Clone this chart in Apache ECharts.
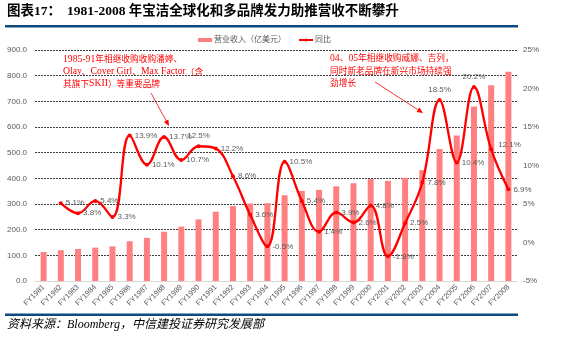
<!DOCTYPE html>
<html>
<head>
<meta charset="utf-8">
<script src="https://cdn.jsdelivr.net/npm/echarts@6/dist/echarts.min.js"></script>
<style>
  html, body { margin: 0; padding: 0; background: #fff; }
  #chart { width: 579px; height: 337px; }
</style>
</head>
<body>
<div id="chart"></div>
<script>
  // 财年
  var years = ['FY1981', 'FY1982', 'FY1983', 'FY1984', 'FY1985', 'FY1986', 'FY1987',
    'FY1988', 'FY1989', 'FY1990', 'FY1991', 'FY1992', 'FY1993', 'FY1994', 'FY1995',
    'FY1996', 'FY1997', 'FY1998', 'FY1999', 'FY2000', 'FY2001', 'FY2002', 'FY2003',
    'FY2004', 'FY2005', 'FY2006', 'FY2007', 'FY2008'];
  // 营业收入（亿美元）
  var revenue = [113, 120, 125, 130, 135, 155, 168, 192, 212, 240, 270, 292, 302, 303,
    334, 351, 355, 369, 381, 397, 390, 402, 432, 514, 567, 680, 763, 815];
  // 同比 (%)
  var yoy = [null, 5.1, 3.8, 5.4, 3.3, 13.9, 10.1, 13.7, 10.7, 12.5, 12.2, 8.6, 3.6, -0.5,
    10.5, 5.4, 1.4, 3.9, 2.6, 4.8, -1.8, 2.5, 7.8, 18.5, 10.4, 20.2, 12.1, 6.9];
  var leftTicks = { min: 0, max: 900, step: 100 };
  var rightTicks = { min: -5, max: 25, step: 5 };

  var note1 = '1985-91年相继收购收购潘婷、\nOlay、Cover Girl、Max Factor（含\n其旗下SKII）等重要品牌';
  var note2 = '04、05年相继收购威娜、吉列，\n同时新老品牌在新兴市场持续强\n劲增长';

  var red = '#FF0000';
  var gray = '#595959';
  var serif = '"Liberation Serif", "Noto Sans CJK SC", serif';

  // labels that sit above the point instead of to the right
  var topLabels = { 'FY1990': 1, 'FY2004': 1, 'FY2006': 1 };

  var yoyData = yoy.map(function (v, i) {
    if (v === null) return null;
    var item = { value: v };
    if (topLabels[years[i]]) item.label = { position: 'top', distance: 4 };
    if (years[i] === 'FY2007') item.label = { position: 'right', offset: [2, -5] };
    return item;
  });

  // CJK runs a bit smaller than the latin text, as in the source document
  function mixed(s) {
    return s.replace(/[\u3000-\u9fff\uff00-\uffef]+/g, function (m) { return '{c|' + m + '}'; });
  }
  var noteRich = { c: { fontSize: 8.7, fontFamily: '"Noto Sans CJK SC"', fill: red, lineHeight: 12.3 } };

  function arrow(x1, y1, x2, y2) {
    var a = Math.atan2(y2 - y1, x2 - x1);
    var len = 6, w = 2.6;
    var bx = x2 - len * Math.cos(a), by = y2 - len * Math.sin(a);
    return [
      { type: 'line', shape: { x1: x1, y1: y1, x2: bx, y2: by }, style: { stroke: red, lineWidth: 0.8 } },
      { type: 'polygon', shape: { points: [[x2, y2],
        [bx + w * Math.sin(a), by - w * Math.cos(a)],
        [bx - w * Math.sin(a), by + w * Math.cos(a)]] }, style: { fill: red } }
    ];
  }

  var chart = echarts.init(document.getElementById('chart'));
  chart.setOption({
    animation: false,
    backgroundColor: '#fff',
    textStyle: { fontFamily: 'Arial, "Liberation Sans", "Noto Sans CJK SC", sans-serif' },
    legend: {
      left: 193,
      top: 31,
      itemGap: 12,
      itemWidth: 14,
      itemHeight: 4,
      textStyle: { fontSize: 8, color: gray, padding: [0, 0, 0, -3] },
      data: [
        { name: '营业收入（亿美元）', icon: 'rect' },
        { name: '同比' }
      ]
    },
    grid: { left: 35, right: 62, top: 50, bottom: 56 },
    xAxis: {
      type: 'category',
      data: years,
      axisLine: { lineStyle: { color: '#D9D9D9' } },
      axisTick: { show: false },
      axisLabel: { rotate: 45, fontSize: 7.5, color: gray, interval: 0, margin: 5 }
    },
    yAxis: [
      {
        type: 'value',
        min: leftTicks.min, max: leftTicks.max, interval: leftTicks.step,
        axisLabel: { fontSize: 8, color: gray, margin: 8, formatter: function (v) { return v.toFixed(1); } },
        splitLine: { lineStyle: { color: '#404040', type: [2, 1], width: 1 } },
        axisLine: { show: false },
        axisTick: { show: false }
      },
      {
        type: 'value',
        min: rightTicks.min, max: rightTicks.max, interval: rightTicks.step,
        axisLabel: { fontSize: 8, color: gray, margin: 6, formatter: '{value}%' },
        splitLine: { show: false },
        axisLine: { show: false },
        axisTick: { show: false }
      }
    ],
    series: [
      {
        name: '营业收入（亿美元）',
        type: 'bar',
        data: revenue,
        barWidth: 6,
        itemStyle: { color: '#FF8080' }
      },
      {
        name: '同比',
        type: 'line',
        yAxisIndex: 1,
        data: yoyData,
        smooth: 0.4,
        symbol: 'circle',
        symbolSize: 4,
        lineStyle: { color: red, width: 2.3 },
        itemStyle: { color: red },
        label: {
          show: true,
          position: 'right',
          distance: 3,
          fontSize: 8,
          color: gray,
          formatter: function (p) { return p.value.toFixed(1) + '%'; }
        }
      }
    ],
    graphic: [
      { type: 'text', left: 7, top: 5, style: { text: '图表17：', font: 'bold 13.5px ' + serif, fill: '#000' } },
      { type: 'text', left: 67, top: 5, style: { text: '1981-2008 年宝洁全球化和多品牌发力助推营收不断攀升', font: 'bold 13.5px ' + serif, fill: '#000' } },
      { type: 'rect', shape: { x: 5, y: 25, width: 513, height: 2.5 }, style: { fill: '#0E4A7E' } },
      { type: 'rect', shape: { x: 5, y: 313.5, width: 513, height: 2.5 }, style: { fill: '#0E4A7E' } },
      { type: 'text', left: 7, top: 319, style: { text: '资料来源：Bloomberg，中信建投证券研究发展部', font: 'italic 12px ' + serif, fill: '#000' } },
      { type: 'text', left: 63, top: 53, style: { text: mixed(note1), font: '9.7px ' + serif, fill: red, lineHeight: 12.3, rich: noteRich } },
      { type: 'text', left: 330, top: 52, style: { text: mixed(note2), font: '9.7px ' + serif, fill: red, lineHeight: 12.3, rich: noteRich } }
    ].concat(arrow(151, 93, 169, 126)).concat(arrow(375, 82, 423, 113))
  });
</script>
</body>
</html>
